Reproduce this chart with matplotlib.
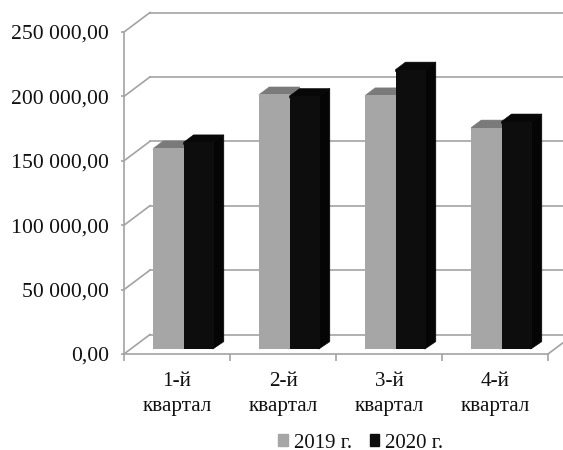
#!/usr/bin/env python3
import matplotlib
matplotlib.use("Agg")
import matplotlib.pyplot as plt
from matplotlib.patches import Patch

plt.rcParams['font.family'] = ['Liberation Serif', 'DejaVu Serif']

categories = ["1-й\nквартал", "2-й\nквартал", "3-й\nквартал", "4-й\nквартал"]
values_2019 = [155800, 197700, 197000, 172000]
values_2020 = [160500, 196500, 217000, 176700]
y_ticks = [0, 50000, 100000, 150000, 200000, 250000]
y_labels = ["0,00", "50 000,00", "100 000,00", "150 000,00", "200 000,00", "250 000,00"]

W, H = 563, 450
GRID = "#a3a3a3"
# depth of the fake 3d box, in data units
DX = 26 / 106
DY = 19.5 / 64.4 * 50000
BAR_W = 0.286
BAR_NEAR = 0.25
BAR_FAR = 0.635


def draw_bar(ax, x, v, front, side, top, z):
    ax.bar(x, v, width=BAR_W, align="edge", color=front, bottom=BAR_NEAR * DY,
           zorder=z + 0.2, linewidth=0, clip_on=False)
    v = v + BAR_NEAR * DY
    x0, x1 = x, x + BAR_W
    b = BAR_NEAR * DY
    ox = (BAR_FAR - BAR_NEAR) * DX
    oy = (BAR_FAR - BAR_NEAR) * DY
    # side and top run a little under the front face so no pale seam shows
    ax.fill([x1 - 0.01, x1 + ox, x1 + ox, x1 - 0.01], [b, b + oy, v + oy, v], color=side, lw=0.4, zorder=z, clip_on=False)
    ax.fill([x0, x0, x0 + ox, x1 + ox, x1, x1], [v - 1500, v, v + oy, v + oy, v, v - 1500],
            color=top, lw=0.4, zorder=z + 0.1, clip_on=False)


fig = plt.figure(figsize=(W / 100, H / 100), dpi=100)
ax = fig.add_axes([124 / W, 1 - 354 / H, 424 / W, 322 / H])
ax.set_xlim(0, 4)
ax.set_ylim(0, 250000)
ax.patch.set_visible(False)

# back wall gridlines and side wall diagonals
for t in y_ticks:
    ax.plot([0, DX], [t, t + DY], color=GRID, lw=1.2, zorder=1, clip_on=False)
    ax.plot([DX, 4 + DX], [t + DY, t + DY], color=GRID, lw=1.2, zorder=1, clip_on=False)
ax.plot([4, 4 + DX], [0, DY], color=GRID, lw=1.2, zorder=1, clip_on=False)

for i in range(len(categories)):
    start = i + 0.5 - BAR_W + BAR_NEAR * DX
    draw_bar(ax, start, values_2019[i], "#a6a6a6", "#8a8a8a", "#7a7a7a", 2)
    draw_bar(ax, start + BAR_W, values_2020[i], "#0d0d0d", "#050505", "#080808", 3)

for s in ("top", "right"):
    ax.spines[s].set_visible(False)
for s in ("left", "bottom"):
    ax.spines[s].set_color(GRID)
    ax.spines[s].set_linewidth(1.2)

ax.set_yticks(y_ticks)
ax.set_yticklabels(y_labels, fontsize=15.6, color="#111111")
ax.tick_params(axis="y", length=2, width=1.2, color=GRID, pad=9)
ax.set_xticks(range(5))
ax.set_xticklabels([])
ax.tick_params(axis="x", length=5, width=1.2, color=GRID)
ax.set_xticks([0.5, 1.5, 2.5, 3.5], labels=categories, minor=True, fontsize=15.2,
              color="#111111", linespacing=1.4)
ax.tick_params(axis="x", which="minor", length=0, pad=13)

handles = [Patch(color="#a6a6a6", label="2019 г."), Patch(color="#0d0d0d", label="2020 г.")]
fig.legend(handles=handles, loc="center", bbox_to_anchor=(361 / W, 1 - 443 / H), ncol=2, frameon=False,
           fontsize=15, handlelength=0.45, handleheight=0.45, handletextpad=0.3, columnspacing=0.85,
           labelcolor="#111111", borderpad=0, borderaxespad=0)

fig.savefig("out.png", dpi=100)
